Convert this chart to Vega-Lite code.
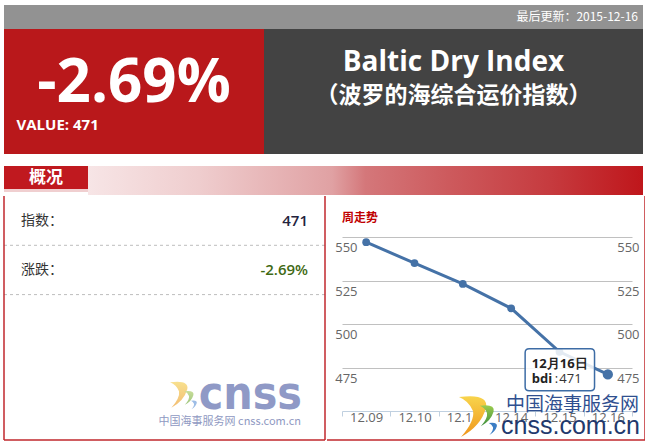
{
  "$schema": "https://vega.github.io/schema/vega-lite/v6.json",
  "padding": {"left": 3, "top": 5, "right": 3, "bottom": 2},
  "background": "#ffffff",
  "spacing": 12,
  "config": {"view": {"stroke": null}, "font": "Open Sans"},
  "datasets": {
    "bdi": [
      {"date": "12.09", "day": "12月09日", "bdi": 547},
      {"date": "12.10", "day": "12月10日", "bdi": 535},
      {"date": "12.11", "day": "12月11日", "bdi": 523},
      {"date": "12.14", "day": "12月14日", "bdi": 509},
      {"date": "12.15", "day": "12月15日", "bdi": 484},
      {"date": "12.16", "day": "12月16日", "bdi": 471}
    ],
    "summary": [
      {"label": "指数：", "value": "471"},
      {"label": "涨跌：", "value": "-2.69%"}
    ],
    "header": [
      {"updated": "最后更新：2015-12-16", "change": "-2.69%", "valueText": "VALUE: 471", "title": "Baltic Dry Index", "subtitle": "（波罗的海综合运价指数）", "section": "概况", "chartTitle": "周走势", "series": "bdi", "wmLogo": "cnss", "wmSmall": "中国海事服务网 cnss.com.cn", "wmSite": "中国海事服务网", "wmDomain": "cnss.com.cn"}
    ]
  },
  "vconcat": [
    {
      "spacing": 0,
      "vconcat": [
        {
          "width": 639,
          "height": 24,
          "view": {"fill": "#929292", "stroke": null},
          "data": {"name": "header"},
          "mark": {"type": "text", "align": "right", "baseline": "middle", "dx": -5, "font": "Noto Sans CJK SC", "fontSize": 12, "fill": "#ffffff"},
          "encoding": {"x": {"value": "width"}, "text": {"field": "updated"}}
        },
        {
          "spacing": 0,
          "hconcat": [
            {
              "width": 260,
              "height": 125,
              "view": {"fill": "#b9181b", "stroke": null},
              "data": {"name": "header"},
              "layer": [
                {
                  "mark": {"type": "text", "align": "center", "baseline": "alphabetic", "dy": 10.5, "font": "Open Sans", "fontWeight": "bold", "fontSize": 60, "fill": "#ffffff"},
                  "encoding": {"text": {"field": "change"}}
                },
                {
                  "mark": {"type": "text", "align": "left", "baseline": "alphabetic", "dx": 12.5, "dy": -24, "font": "Open Sans", "fontWeight": "bold", "fontSize": 15, "fill": "#ffffff"},
                  "encoding": {"x": {"value": 0}, "y": {"value": "height"}, "text": {"field": "valueText"}}
                }
              ]
            },
            {
              "width": 379,
              "height": 125,
              "view": {"fill": "#434343", "stroke": null},
              "data": {"name": "header"},
              "layer": [
                {
                  "mark": {"type": "text", "align": "center", "baseline": "alphabetic", "dy": -21, "font": "Open Sans", "fontWeight": "bold", "fontSize": 28, "fill": "#ffffff"},
                  "encoding": {"text": {"field": "title"}}
                },
                {
                  "mark": {"type": "text", "align": "center", "baseline": "middle", "dy": 4, "font": "Noto Sans CJK SC", "fontWeight": "bold", "fontSize": 23, "fill": "#ffffff"},
                  "encoding": {"text": {"field": "subtitle"}}
                }
              ]
            }
          ]
        }
      ]
    },
    {
      "spacing": 0,
      "vconcat": [
        {
          "spacing": 0,
          "hconcat": [
            {
              "spacing": 0,
              "vconcat": [
                {
                  "width": 84,
                  "height": 23,
                  "view": {"fill": "#c0191f", "stroke": null},
                  "data": {"name": "header"},
                  "mark": {"type": "text", "align": "center", "baseline": "middle", "dy": 0.5, "font": "Noto Sans CJK SC", "fontWeight": "bold", "fontSize": 17, "fill": "#ffffff"},
                  "encoding": {"text": {"field": "section"}}
                },
                {
                  "width": 84,
                  "height": 3,
                  "data": {"name": "header"},
                  "mark": {"type": "rect", "fill": "#f0cfd0"},
                  "encoding": {"x": {"value": 0}, "x2": {"value": "width"}, "y": {"value": 0}, "y2": {"value": "height"}}
                }
              ]
            },
            {
              "width": 555,
              "height": 29,
              "data": {"name": "header"},
              "mark": {
                "type": "rect",
                "fill": {
                  "gradient": "linear", "x1": 0, "y1": 0, "x2": 1, "y2": 0,
                  "stops": [
                    {"offset": 0, "color": "#f7e5e6"},
                    {"offset": 0.2, "color": "#efcdce"},
                    {"offset": 0.44, "color": "#e0a1a3"},
                    {"offset": 0.5, "color": "#d4777a"},
                    {"offset": 0.65, "color": "#cd5a5d"},
                    {"offset": 0.83, "color": "#c63b3f"},
                    {"offset": 1, "color": "#bf161b"}
                  ]
                }
              },
              "encoding": {"x": {"value": 0}, "x2": {"value": "width"}, "y": {"value": 0}, "y2": {"value": "height"}}
            }
          ]
        },
        {
          "spacing": 0,
          "hconcat": [
            {
              "width": 321,
              "height": 244,
              "data": {"name": "summary"},
              "layer": [
                {
                  "mark": {"type": "rule", "stroke": "#bdbdbd", "strokeWidth": 1, "strokeDash": [3, 3]},
                  "encoding": {
                    "y": {"field": "label", "type": "nominal", "sort": null, "bandPosition": 1, "scale": {"type": "band", "range": [0, 98.6], "paddingInner": 0, "paddingOuter": 0}, "axis": null}
                  }
                },
                {
                  "mark": {"type": "text", "align": "left", "baseline": "middle", "dx": 17, "font": "Noto Sans CJK SC", "fontSize": 14, "fill": "#333333"},
                  "encoding": {
                    "x": {"value": 0},
                    "y": {"field": "label", "type": "nominal", "sort": null, "axis": null},
                    "text": {"field": "label"}
                  }
                },
                {
                  "mark": {"type": "text", "align": "right", "baseline": "middle", "dx": -17, "font": "Open Sans", "fontWeight": 600, "fontSize": 15},
                  "encoding": {
                    "x": {"value": "width"},
                    "y": {"field": "label", "type": "nominal", "sort": null, "axis": null},
                    "text": {"field": "value"},
                    "color": {"field": "label", "type": "nominal", "sort": null, "scale": {"range": ["#23233d", "#3f6a14"]}, "legend": null}
                  }
                },
                {
                  "data": {"name": "header"},
                  "mark": {"type": "point", "shape": "M-0.596,-0.851Q0.681,-1.021 0.553,-0.383Q0.34,0.383 -0.511,0.851Q0.085,0.17 0,-0.255Q-0.17,-0.681 -0.596,-0.851Z", "size": 900, "filled": true, "opacity": 1, "strokeWidth": 0,
                    "fill": {"gradient": "linear", "x1": 0, "y1": 0, "x2": 0, "y2": 1, "stops": [{"offset": 0, "color": "#f8e08e"}, {"offset": 1, "color": "#f2bd73"}]},
                    "xOffset": -146, "yOffset": -45},
                  "encoding": {"x": {"value": "width"}, "y": {"value": "height"}}
                },
                {
                  "data": {"name": "header"},
                  "mark": {"type": "point", "shape": "M-0.596,-0.851Q0.681,-1.021 0.553,-0.383Q0.34,0.383 -0.511,0.851Q0.085,0.17 0,-0.255Q-0.17,-0.681 -0.596,-0.851Z", "size": 256, "filled": true, "opacity": 1, "strokeWidth": 0,
                    "fill": {"gradient": "linear", "x1": 0, "y1": 0, "x2": 0, "y2": 1, "stops": [{"offset": 0, "color": "#c8de9a"}, {"offset": 1, "color": "#9cc47c"}]},
                    "xOffset": -136, "yOffset": -42},
                  "encoding": {"x": {"value": "width"}, "y": {"value": "height"}}
                },
                {
                  "data": {"name": "header"},
                  "mark": {"type": "point", "shape": "M-0.596,-0.851Q0.681,-1.021 0.553,-0.383Q0.34,0.383 -0.511,0.851Q0.085,0.17 0,-0.255Q-0.17,-0.681 -0.596,-0.851Z", "size": 100, "filled": true, "opacity": 1, "strokeWidth": 0, "fill": "#9dbde6",
                    "xOffset": -131, "yOffset": -35},
                  "encoding": {"x": {"value": "width"}, "y": {"value": "height"}}
                },
                {
                  "data": {"name": "header"},
                  "mark": {"type": "text", "align": "right", "baseline": "alphabetic", "dx": -23, "dy": -31, "font": "Liberation Sans Narrow, DejaVu Sans Condensed, sans-serif", "fontWeight": "bold", "fontSize": 46, "fill": "#8f99c6"},
                  "encoding": {"x": {"value": "width"}, "y": {"value": "height"}, "text": {"field": "wmLogo"}}
                },
                {
                  "data": {"name": "header"},
                  "mark": {"type": "text", "align": "right", "baseline": "middle", "dx": -24, "dy": -18, "font": "Noto Sans CJK SC", "fontSize": 11, "fill": "#8f99c2"},
                  "encoding": {"x": {"value": "width"}, "y": {"value": "height"}, "text": {"field": "wmSmall"}}
                },
                {
                  "data": {"name": "header"},
                  "mark": {"type": "rule", "stroke": "#c1272d", "strokeWidth": 1.5},
                  "encoding": {"x": {"value": 0}, "y": {"value": 0}, "y2": {"value": "height"}}
                },
                {
                  "data": {"name": "header"},
                  "mark": {"type": "rule", "stroke": "#c1272d", "strokeWidth": 1.5},
                  "encoding": {"x": {"value": "width"}, "y": {"value": 0}, "y2": {"value": "height"}}
                },
                {
                  "data": {"name": "header"},
                  "mark": {"type": "rule", "stroke": "#c1272d", "strokeWidth": 1.5},
                  "encoding": {"y": {"value": "height"}, "x": {"value": 0}, "x2": {"value": "width"}}
                }
              ]
            },
            {
              "width": 318,
              "height": 244,
              "data": {"name": "bdi"},
              "resolve": {"axis": {"y": "independent"}},
              "layer": [
                {
                  "mark": {"type": "line", "stroke": "#4572A7", "strokeWidth": 3},
                  "encoding": {
                    "x": {
                      "field": "date", "type": "ordinal", "sort": null,
                      "scale": {"type": "band", "range": [15, 305], "paddingInner": 0, "paddingOuter": 0},
                      "axis": {"orient": "bottom", "offset": -29, "tickBand": "extent", "domainColor": "#C0D0E0", "domainWidth": 1, "ticks": true, "tickColor": "#C0D0E0", "tickSize": 5, "labelColor": "#666666", "labelFontSize": 13, "labelFont": "Open Sans", "labelPadding": -5, "labelAngle": 0, "title": null, "grid": false}
                    },
                    "y": {
                      "field": "bdi", "type": "quantitative",
                      "scale": {"domain": [450, 550], "range": [215, 41], "zero": false, "nice": false},
                      "axis": {"orient": "left", "values": [475, 500, 525, 550], "grid": true, "gridColor": "#C0C0C0", "gridWidth": 1, "domain": false, "ticks": false, "labelAlign": "left", "labelPadding": -7.7, "labelBaseline": "middle", "labelOffset": 10.5, "labelColor": "#666666", "labelFontSize": 13, "labelFont": "Open Sans", "title": null}
                    }
                  }
                },
                {
                  "mark": {"type": "point", "filled": true, "fill": "#4572A7", "size": 60, "opacity": 1},
                  "encoding": {
                    "x": {"field": "date", "type": "ordinal", "sort": null},
                    "y": {
                      "field": "bdi", "type": "quantitative",
                      "axis": {"orient": "right", "values": [475, 500, 525, 550], "grid": false, "domain": false, "ticks": false, "labelAlign": "left", "labelPadding": -28.3, "labelBaseline": "middle", "labelOffset": 10.5, "labelColor": "#666666", "labelFontSize": 13, "labelFont": "Open Sans", "title": null}
                    }
                  }
                },
                {
                  "transform": [{"filter": "datum.date === '12.16'"}],
                  "mark": {"type": "point", "filled": true, "fill": "#4572A7", "size": 105, "opacity": 1},
                  "encoding": {
                    "x": {"field": "date", "type": "ordinal", "sort": null},
                    "y": {"field": "bdi", "type": "quantitative", "axis": null}
                  }
                },
                {
                  "transform": [{"filter": "datum.date === '12.16'"}],
                  "mark": {"type": "point", "shape": "M-0.885,-0.605L0.885,-0.605Q1,-0.605 1,-0.49L1,0.49Q1,0.605 0.885,0.605L-0.885,0.605Q-1,0.605 -1,0.49L-1,-0.49Q-1,-0.605 -0.885,-0.605Z", "size": 4816, "filled": true, "fill": "#ffffff", "fillOpacity": 0.85, "stroke": "#3d6ca5", "strokeWidth": 1.5, "opacity": 1, "xOffset": -48, "yOffset": -4.7},
                  "encoding": {
                    "x": {"field": "date", "type": "ordinal", "sort": null},
                    "y": {"field": "bdi", "type": "quantitative", "axis": null}
                  }
                },
                {
                  "transform": [{"filter": "datum.date === '12.16'"}],
                  "mark": {"type": "text", "align": "left", "baseline": "alphabetic", "dx": -76, "dy": -6, "font": "Open Sans", "fontWeight": "bold", "fontSize": 13, "fill": "#222222"},
                  "encoding": {
                    "x": {"field": "date", "type": "ordinal", "sort": null},
                    "y": {"field": "bdi", "type": "quantitative", "axis": null},
                    "text": {"field": "day"}
                  }
                },
                {
                  "transform": [{"filter": "datum.date === '12.16'"}],
                  "mark": {"type": "text", "align": "left", "baseline": "alphabetic", "dx": -76, "dy": 9, "font": "Open Sans", "fontWeight": "bold", "fontSize": 13, "fill": "#222222"},
                  "encoding": {
                    "x": {"field": "date", "type": "ordinal", "sort": null},
                    "y": {"field": "bdi", "type": "quantitative", "axis": null},
                    "text": {"value": "bdi"}
                  }
                },
                {
                  "transform": [{"filter": "datum.date === '12.16'"}],
                  "mark": {"type": "text", "align": "left", "baseline": "alphabetic", "dx": -53, "dy": 9, "font": "Open Sans", "fontSize": 13, "fill": "#333333"},
                  "encoding": {
                    "x": {"field": "date", "type": "ordinal", "sort": null},
                    "y": {"field": "bdi", "type": "quantitative", "axis": null},
                    "text": {"value": ":"}
                  }
                },
                {
                  "transform": [{"filter": "datum.date === '12.16'"}],
                  "mark": {"type": "text", "align": "left", "baseline": "alphabetic", "dx": -48.5, "dy": 9, "font": "Open Sans", "fontSize": 13, "fill": "#333333"},
                  "encoding": {
                    "x": {"field": "date", "type": "ordinal", "sort": null},
                    "y": {"field": "bdi", "type": "quantitative", "axis": null},
                    "text": {"field": "bdi", "type": "quantitative"}
                  }
                },
                {
                  "data": {"name": "header"},
                  "mark": {"type": "text", "align": "left", "baseline": "alphabetic", "dx": 15, "dy": 26, "font": "Noto Sans CJK SC", "fontWeight": "bold", "fontSize": 12, "fill": "#c00000"},
                  "encoding": {"x": {"value": 0}, "y": {"value": 0}, "text": {"field": "chartTitle"}}
                },
                {
                  "data": {"name": "header"},
                  "mark": {"type": "point", "shape": "M-0.596,-0.851Q0.681,-1.021 0.553,-0.383Q0.34,0.383 -0.511,0.851Q0.085,0.17 0,-0.255Q-0.17,-0.681 -0.596,-0.851Z", "size": 2209, "filled": true, "opacity": 1, "strokeWidth": 0,
                    "fill": {"gradient": "linear", "x1": 0, "y1": 0, "x2": 0, "y2": 1, "stops": [{"offset": 0, "color": "#f8d44c"}, {"offset": 1, "color": "#ef961c"}]},
                    "xOffset": -172, "yOffset": -23},
                  "encoding": {"x": {"value": "width"}, "y": {"value": "height"}}
                },
                {
                  "data": {"name": "header"},
                  "mark": {"type": "point", "shape": "M-0.596,-0.851Q0.681,-1.021 0.553,-0.383Q0.34,0.383 -0.511,0.851Q0.085,0.17 0,-0.255Q-0.17,-0.681 -0.596,-0.851Z", "size": 576, "filled": true, "opacity": 1, "strokeWidth": 0,
                    "fill": {"gradient": "linear", "x1": 0, "y1": 0, "x2": 0, "y2": 1, "stops": [{"offset": 0, "color": "#9ccc4e"}, {"offset": 1, "color": "#3d8f3e"}]},
                    "xOffset": -158, "yOffset": -24},
                  "encoding": {"x": {"value": "width"}, "y": {"value": "height"}}
                },
                {
                  "data": {"name": "header"},
                  "mark": {"type": "point", "shape": "M-0.596,-0.851Q0.681,-1.021 0.553,-0.383Q0.34,0.383 -0.511,0.851Q0.085,0.17 0,-0.255Q-0.17,-0.681 -0.596,-0.851Z", "size": 196, "filled": true, "opacity": 1, "strokeWidth": 0, "fill": "#3c7dc4",
                    "xOffset": -152, "yOffset": -11},
                  "encoding": {"x": {"value": "width"}, "y": {"value": "height"}}
                },
                {
                  "data": {"name": "header"},
                  "mark": {"type": "text", "align": "right", "baseline": "middle", "dx": -6, "dy": -35.5, "font": "Noto Sans CJK SC", "fontSize": 19, "fill": "#2f4f8f"},
                  "encoding": {"x": {"value": "width"}, "y": {"value": "height"}, "text": {"field": "wmSite"}}
                },
                {
                  "data": {"name": "header"},
                  "mark": {"type": "text", "align": "right", "baseline": "alphabetic", "dx": -5, "dy": -6, "font": "Liberation Sans", "fontSize": 25, "fill": "#22396d"},
                  "encoding": {"x": {"value": "width"}, "y": {"value": "height"}, "text": {"field": "wmDomain"}}
                },
                {
                  "data": {"name": "header"},
                  "mark": {"type": "rule", "stroke": "#c1272d", "strokeWidth": 1.5},
                  "encoding": {"x": {"value": "width"}, "y": {"value": 0}, "y2": {"value": "height"}}
                },
                {
                  "data": {"name": "header"},
                  "mark": {"type": "rule", "stroke": "#c1272d", "strokeWidth": 1.5},
                  "encoding": {"y": {"value": "height"}, "x": {"value": 0}, "x2": {"value": "width"}}
                }
              ]
            }
          ]
        }
      ]
    }
  ]
}
